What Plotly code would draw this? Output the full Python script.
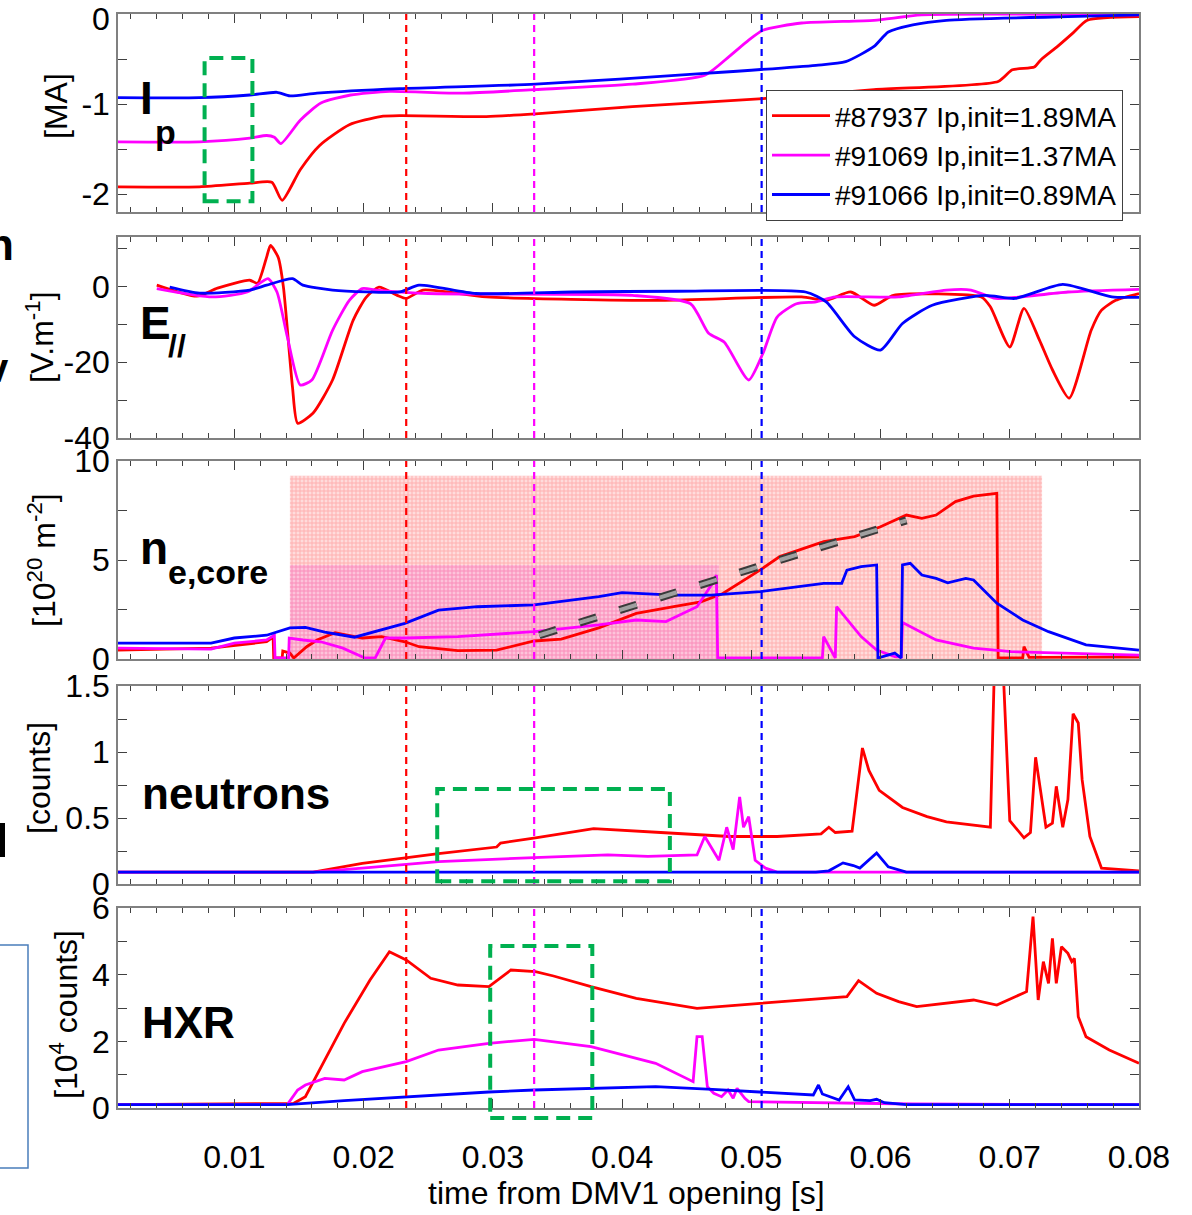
import plotly.graph_objects as go

# ---------------- data ----------------
shots = ["#87937 Ip,init=1.89MA", "#91069 Ip,init=1.37MA", "#91066 Ip,init=0.89MA"]
colors = ["#ff0000", "#ff00ff", "#0000ff"]

# Panel 1: Ip [MA]
t_ip_r = [0.001, 0.0073, 0.0112, 0.0129, 0.0137, 0.0151, 0.0166, 0.0189, 0.0213, 0.0228, 0.0295, 0.0333,
          0.0408, 0.0509, 0.0595, 0.0691, 0.0702, 0.0719, 0.0724, 0.0737, 0.0749, 0.0760, 0.0800]
ip_r = [-1.92, -1.92, -1.88, -1.87, -2.07, -1.73, -1.46, -1.23, -1.14, -1.13, -1.14, -1.11,
        -1.03, -0.94, -0.84, -0.75, -0.62, -0.59, -0.51, -0.36, -0.21, -0.07, -0.03]
t_ip_m = [0.001, 0.0073, 0.0112, 0.0125, 0.0131, 0.0136, 0.0151, 0.0167, 0.0190, 0.0220, 0.0277, 0.0333,
          0.0408, 0.0464, 0.0483, 0.0498, 0.0509, 0.0539, 0.0595, 0.0632, 0.0800]
ip_m = [-1.42, -1.42, -1.38, -1.35, -1.37, -1.44, -1.18, -0.99, -0.90, -0.86, -0.88, -0.84,
        -0.78, -0.68, -0.47, -0.29, -0.18, -0.10, -0.07, -0.01, -0.01]
t_ip_b = [0.001, 0.0073, 0.0112, 0.0133, 0.0143, 0.0164, 0.0228, 0.0333, 0.0464, 0.0550, 0.0573, 0.0595,
          0.0606, 0.0625, 0.0651, 0.0745, 0.0800]
ip_b = [-0.93, -0.93, -0.90, -0.87, -0.91, -0.88, -0.83, -0.78, -0.66, -0.57, -0.53, -0.36,
        -0.20, -0.12, -0.07, -0.03, -0.01]

# Panel 2: E// [V/m]
t_e_r = [0.0040, 0.0071, 0.0087, 0.0112, 0.0118, 0.0125, 0.0128, 0.0134, 0.0138, 0.0145, 0.0149, 0.0161,
         0.0176, 0.0192, 0.0202, 0.0212, 0.0226, 0.0233, 0.0246, 0.0295, 0.0430, 0.0539, 0.0558, 0.0577,
         0.0595, 0.0610, 0.0678, 0.0685, 0.0700, 0.0711, 0.0723, 0.0733, 0.0746, 0.0763, 0.0771, 0.0782, 0.0800]
e_r = [0.3, -2.6, -0.5, 1.6, 0.8, 7.7, 10.8, 7.6, -0.2, -26.5, -36.1, -33.4,
       -24.7, -8.9, -2.9, -0.2, -2.4, -3.2, -1.0, -2.8, -3.7, -2.8, -3.7, -1.5,
       -5.0, -2.4, -2.8, -5.4, -16.0, -5.8, -14.2, -22.0, -29.5, -11.6, -6.3, -3.7, -1.9]
t_e_m = [0.0040, 0.0083, 0.0110, 0.0126, 0.0133, 0.0141, 0.0151, 0.0160, 0.0176, 0.0189, 0.0199, 0.0210,
         0.0250, 0.0408, 0.0453, 0.0467, 0.0479, 0.0498, 0.0509, 0.0520, 0.0535, 0.0550, 0.0565, 0.0614,
         0.0651, 0.0670, 0.0689, 0.0708, 0.0745, 0.0800]
e_m = [-0.6, -2.8, -1.5, 2.0, -1.5, -13.3, -26.0, -24.7, -11.6, -3.7, -0.6, -1.0,
       -1.9, -2.4, -4.6, -12.4, -14.7, -24.7, -17.7, -8.1, -4.6, -4.1, -2.8, -2.8,
       -1.0, -1.0, -3.2, -2.8, -1.5, -0.8]
t_e_b = [0.0050, 0.0073, 0.0112, 0.0125, 0.0145, 0.0153, 0.0176, 0.0228, 0.0243, 0.0287, 0.0361, 0.0443,
         0.0542, 0.0558, 0.0580, 0.0600, 0.0617, 0.0640, 0.0681, 0.0704, 0.0741, 0.0779, 0.0800]
e_b = [-0.2, -1.8, -1.0, 0.3, 2.0, 0.3, -1.0, -1.5, 0.3, -1.9, -1.5, -1.3,
       -1.5, -4.1, -13.3, -16.8, -9.8, -5.0, -2.4, -3.2, 0.5, -2.8, -2.9]

# Panel 3: n_e,core [1e20 m^-2]
t_ne_r = [0.001, 0.0082, 0.0125, 0.0130, 0.01305, 0.0137, 0.01375, 0.0143, 0.0146, 0.0156, 0.0164, 0.0178,
          0.0199, 0.0214, 0.0232, 0.0243, 0.0273, 0.0303, 0.0332, 0.0353, 0.0382, 0.0411, 0.0440, 0.0461,
          0.0478, 0.0507, 0.0522, 0.0556, 0.0580, 0.0600, 0.0620, 0.0632, 0.0643, 0.0658, 0.0672, 0.0690,
          0.0691, 0.0710, 0.0711, 0.0715, 0.0800]
ne_r = [0.45, 0.55, 0.87, 1.1, 0.05, 0.05, 0.4, 0.3, 0.05, 0.62, 0.96, 1.33,
        1.06, 1.13, 0.87, 0.62, 0.42, 0.45, 0.91, 1.0, 1.57, 2.3, 2.64, 2.89,
        3.31, 4.5, 5.17, 5.93, 6.18, 6.68, 7.27, 7.1, 7.27, 7.95, 8.23, 8.37,
        0.05, 0.05, 0.62, 0.08, 0.1]
t_ne_m = [0.001, 0.0082, 0.0100, 0.0125, 0.0131, 0.01315, 0.0142, 0.01425, 0.0153, 0.0167, 0.0184, 0.0201,
          0.0209, 0.0217, 0.0232, 0.0273, 0.0332, 0.0382, 0.0411, 0.0434, 0.0458, 0.0470, 0.0473, 0.0474,
          0.0555, 0.0556, 0.0565, 0.0566, 0.0585, 0.0597, 0.0611, 0.0616, 0.0617, 0.0643, 0.0672, 0.0701, 0.0800]
ne_m = [0.55, 0.5, 0.8, 0.96, 1.2, 0.05, 0.05, 1.06, 0.96, 0.87, 0.55, 0.05,
        0.05, 1.06, 1.06, 1.13, 1.38, 1.72, 1.97, 1.89, 2.64, 3.82, 4.24, 0.05,
        0.05, 1.13, 0.05, 2.64, 1.13, 0.45, 0.12, 0.1, 1.84, 0.96, 0.55, 0.37, 0.2]
t_ne_b = [0.001, 0.0082, 0.0100, 0.0125, 0.0143, 0.0155, 0.0170, 0.0193, 0.0232, 0.0258, 0.0288, 0.0332,
          0.0382, 0.0400, 0.0440, 0.0469, 0.0507, 0.0556, 0.0570, 0.0574, 0.0585, 0.0597, 0.0598, 0.0611,
          0.0616, 0.0617, 0.0623, 0.0632, 0.0643, 0.0652, 0.0666, 0.0672, 0.0690, 0.0710, 0.0730, 0.0759, 0.0800]
ne_b = [0.8, 0.8, 1.06, 1.2, 1.57, 1.6, 1.36, 1.1, 1.8, 2.47, 2.64, 2.73,
        3.15, 3.35, 3.23, 3.23, 3.4, 3.82, 3.82, 4.49, 4.66, 4.75, 0.05, 0.3,
        0.05, 4.75, 4.83, 4.24, 4.07, 3.85, 4.07, 3.99, 2.82, 1.97, 1.38, 0.71, 0.45]
t_trend = [0.0336, 0.0620]
ne_trend = [1.2, 7.0]
shade_red = [0.0143, 0.0725, 9.25]      # t_start, t_end, top
shade_magenta = [0.0143, 0.0475, 4.75]  # t_start, t_end, top

# Panel 4: neutrons [counts]
t_n_r = [0.001, 0.0161, 0.0199, 0.0233, 0.0258, 0.0303, 0.0306, 0.0333, 0.0378, 0.0430, 0.0483, 0.0520,
         0.0554, 0.0560, 0.0565, 0.0578, 0.0586, 0.0591, 0.0599, 0.0617, 0.0636, 0.0651, 0.0685, 0.0688,
         0.0695, 0.0700, 0.0711, 0.0716, 0.0720, 0.0728, 0.0733, 0.0736, 0.0741, 0.0745, 0.0749, 0.0753,
         0.0756, 0.0762, 0.0771, 0.0800]
n_r = [0.09, 0.09, 0.156, 0.20, 0.23, 0.28, 0.31, 0.35, 0.42, 0.39, 0.36, 0.36,
       0.38, 0.43, 0.39, 0.40, 1.03, 0.86, 0.71, 0.58, 0.51, 0.47, 0.43, 1.6,
       1.6, 0.48, 0.35, 0.39, 0.96, 0.43, 0.46, 0.74, 0.43, 0.64, 1.29, 1.22,
       0.79, 0.36, 0.12, 0.1]
t_n_m = [0.001, 0.0161, 0.0199, 0.0258, 0.0332, 0.0389, 0.0420, 0.0458, 0.0464, 0.0475, 0.0481, 0.0486,
         0.0491, 0.0494, 0.0498, 0.0503, 0.0511, 0.0520, 0.0800]
n_m = [0.09, 0.09, 0.12, 0.17, 0.20, 0.22, 0.21, 0.22, 0.36, 0.18, 0.43, 0.26,
       0.66, 0.43, 0.51, 0.18, 0.12, 0.09, 0.09]
t_n_b = [0.001, 0.0550, 0.0560, 0.0571, 0.0579, 0.0584, 0.0597, 0.0606, 0.0620, 0.0800]
n_b = [0.09, 0.09, 0.10, 0.16, 0.14, 0.12, 0.235, 0.13, 0.09, 0.09]

# Panel 5: HXR [1e4 counts]
t_h_r = [0.001, 0.0146, 0.0155, 0.0185, 0.0205, 0.0214, 0.0220, 0.0233, 0.0243, 0.0252, 0.0273, 0.0297,
         0.0314, 0.0333, 0.0347, 0.0376, 0.0411, 0.0458, 0.0507, 0.0574, 0.0583, 0.0597, 0.0614, 0.0628,
         0.0672, 0.0690, 0.0713, 0.0718, 0.0722, 0.0726, 0.0730, 0.0733, 0.0736, 0.0740, 0.0745, 0.0748,
         0.0750, 0.0753, 0.0759, 0.0777, 0.0800]
h_r = [0.1, 0.14, 0.34, 2.54, 3.84, 4.34, 4.69, 4.44, 4.14, 3.89, 3.69, 3.64,
       4.14, 4.09, 3.96, 3.64, 3.29, 2.99, 3.14, 3.34, 3.82, 3.44, 3.19, 3.04,
       3.24, 3.09, 3.49, 5.74, 3.24, 4.39, 3.74, 5.09, 3.74, 4.84, 4.64, 4.39,
       4.49, 2.74, 2.14, 1.74, 1.34]
t_h_m = [0.001, 0.0141, 0.0149, 0.0155, 0.0170, 0.0185, 0.0199, 0.0233, 0.0258, 0.0297, 0.0332, 0.0376,
         0.0426, 0.0455, 0.0458, 0.0462, 0.0466, 0.0471, 0.0477, 0.0482, 0.0486, 0.0489, 0.0495, 0.0498,
         0.0625, 0.0800]
h_m = [0.1, 0.1, 0.54, 0.69, 0.89, 0.84, 1.09, 1.39, 1.74, 1.94, 2.06, 1.84,
       1.34, 0.79, 2.14, 2.14, 0.64, 0.44, 0.34, 0.54, 0.29, 0.59, 0.29, 0.19,
       0.12, 0.1]
t_h_b = [0.001, 0.0141, 0.0185, 0.0233, 0.0297, 0.0332, 0.0382, 0.0426, 0.0470, 0.0507, 0.0548, 0.0552,
         0.0555, 0.0568, 0.0575, 0.0580, 0.0592, 0.0597, 0.0603, 0.0620, 0.0800]
h_b = [0.1, 0.1, 0.22, 0.34, 0.48, 0.54, 0.6, 0.64, 0.56, 0.49, 0.39, 0.69,
       0.42, 0.24, 0.64, 0.24, 0.22, 0.26, 0.16, 0.1, 0.1]

# event times (dashed verticals), and highlighted windows
vline_times = [0.0233, 0.0332, 0.0508]
box_ip = [0.0077, 0.0114, -2.08, -0.49]
box_neutrons = [0.0257, 0.0437, 0.02, 0.72]
box_hxr = [0.0298, 0.0377, -0.3, 4.86]

x_ticks = [0.01, 0.02, 0.03, 0.04, 0.05, 0.06, 0.07, 0.08]
x_ticktext = ["0.01", "0.02", "0.03", "0.04", "0.05", "0.06", "0.07", "0.08"]

# ---------------- layout helpers ----------------
W, H = 1192, 1215
FONT = "Liberation Sans, Arial, sans-serif"
XL, XR = 118, 1139
panels_px = [(14, 212), (237, 438), (461, 659), (686, 884), (908, 1108)]
y_ranges = [[-2.2, 0.0], [-40, 13], [0, 10], [0, 1.5], [0, 6]]
y_tickvals = [[-2, -1, 0], [-40, -20, 0], [0, 5, 10], [0, 0.5, 1, 1.5], [0, 2, 4, 6]]
# the top "0" of panel 1 is written as an annotation below (it sits at the page edge)
y_ticktext = [["-2", "-1", ""], ["-40", "-20", "0"], ["0", "5", "10"], ["0", "0.5", "1", "1.5"], ["0", "2", "4", "6"]]
y_minor = [0.5, 10, 2.5, 0.25, 1]
smooth_panels = [0, 1]

fig = go.Figure()

def ax(i):
    return ("x" if i == 0 else f"x{i+1}"), ("y" if i == 0 else f"y{i+1}")

series = [
    [(t_ip_r, ip_r), (t_ip_m, ip_m), (t_ip_b, ip_b)],
    [(t_e_r, e_r), (t_e_m, e_m), (t_e_b, e_b)],
    [(t_ne_r, ne_r), (t_ne_m, ne_m), (t_ne_b, ne_b)],
    [(t_n_r, n_r), (t_n_m, n_m), (t_n_b, n_b)],
    [(t_h_r, h_r), (t_h_m, h_m), (t_h_b, h_b)],
]

# shaded regions (panel 3)
xa3, ya3 = ax(2)
for reg, fg, bg in [(shade_red, "rgba(255,80,80,0.7)", "rgba(255,205,205,0.7)"),
                    (shade_magenta, "rgba(240,40,190,0.35)", "rgba(245,130,215,0.28)")]:
    t0, t1, top = reg
    fig.add_trace(go.Scatter(x=[t0, t1, t1, t0, t0], y=[0, 0, top, top, 0], mode="lines",
                             line=dict(width=0), fill="toself",
                             fillcolor=bg,
                             fillpattern=dict(shape="+", size=4, solidity=0.4, fgcolor=fg, bgcolor=bg),
                             xaxis=xa3, yaxis=ya3, showlegend=False, hoverinfo="skip"))

for i, group in enumerate(series):
    xa, ya = ax(i)
    for k, (t, v) in enumerate(group):
        ln = dict(color=colors[k], width=2.8)
        if i in smooth_panels:
            ln.update(shape="spline", smoothing=0.6)
        fig.add_trace(go.Scatter(x=t, y=v, mode="lines", name=shots[k], line=ln,
                                 xaxis=xa, yaxis=ya, showlegend=(i == 0)))

# trend line (panel 3)
fig.add_trace(go.Scatter(x=t_trend, y=ne_trend, mode="lines", line=dict(color="#3a3a3a", width=8, dash="18px,24px"),
                         xaxis=xa3, yaxis=ya3, showlegend=False))
fig.add_trace(go.Scatter(x=t_trend, y=ne_trend, mode="lines", line=dict(color="#a0a0a0", width=4, dash="18px,24px"),
                         xaxis=xa3, yaxis=ya3, showlegend=False))

layout = dict(width=W, height=H, autosize=False, margin=dict(l=0, r=0, t=0, b=0, pad=0, autoexpand=False),
              paper_bgcolor="white", plot_bgcolor="rgba(0,0,0,0)",
              font=dict(family=FONT, size=32, color="black"))

for i, (top, bot) in enumerate(panels_px):
    xa, ya = ax(i)
    xkey = "xaxis" if i == 0 else f"xaxis{i+1}"
    ykey = "yaxis" if i == 0 else f"yaxis{i+1}"
    layout[xkey] = dict(domain=[XL / W, XR / W], anchor=ya, range=[0.001, 0.08], automargin=False,
                        showline=True, linecolor="#808080", linewidth=1.5, mirror="ticks",
                        ticks="inside", ticklen=9, tickcolor="#404040", tickwidth=1.2,
                        tickvals=x_ticks, ticktext=x_ticktext, showticklabels=(i == 4),
                        tickfont=dict(size=32, family=FONT), ticklabelstandoff=20,
                        ticklabeloverflow="allow",
                        minor=dict(dtick=0.002, tick0=0, ticks="inside", ticklen=5, tickcolor="#404040"),
                        showgrid=False, zeroline=False, fixedrange=True)
    layout[ykey] = dict(domain=[1 - bot / H, 1 - top / H], anchor=xa, range=y_ranges[i], automargin=False,
                        showline=True, linecolor="#808080", linewidth=1.5, mirror="ticks",
                        ticks="inside", ticklen=9, tickcolor="#404040", tickwidth=1.2,
                        tickvals=y_tickvals[i], ticktext=y_ticktext[i],
                        tickfont=dict(size=32, family=FONT), ticklabeloverflow="allow",
                        minor=dict(dtick=y_minor[i], tick0=0, ticks="inside", ticklen=9, tickcolor="#404040"),
                        showgrid=False, zeroline=False, fixedrange=True)

layout["legend"] = dict(x=766 / W, y=1 - 90 / H, xanchor="left", yanchor="top",
                        bgcolor="white", bordercolor="#404040", borderwidth=1,
                        font=dict(size=28, family=FONT), tracegroupgap=0, itemwidth=58)

shapes = []
vcolors = ["#ff0000", "#ff00ff", "#0000ff"]
for i in range(5):
    xa, ya = ax(i)
    for tv, c in zip(vline_times, vcolors):
        shapes.append(dict(type="line", xref=xa, yref=f"{ya} domain", x0=tv, x1=tv, y0=0, y1=1,
                           line=dict(color=c, width=2.2, dash="7px,5px"), layer="above"))

def dom(v, rng):
    return (v - rng[0]) / (rng[1] - rng[0])

for pidx, box in [(0, box_ip), (3, box_neutrons), (4, box_hxr)]:
    xa, ya = ax(pidx)
    rng = y_ranges[pidx]
    shapes.append(dict(type="rect", xref=xa, yref=f"{ya} domain", x0=box[0], x1=box[1],
                       y0=dom(box[2], rng), y1=dom(box[3], rng),
                       line=dict(color="#00b050", width=4, dash="14px,8px"), layer="above"))

# slide fragments at the left edge
shapes.append(dict(type="rect", xref="paper", yref="paper", x0=-0.01, x1=28 / W, y0=1 - 1168 / H, y1=1 - 945 / H,
                   line=dict(color="#4a7ebb", width=1.5)))
shapes.append(dict(type="rect", xref="paper", yref="paper", x0=-0.01, x1=5 / W, y0=1 - 857 / H, y1=1 - 823 / H,
                   line=dict(width=0), fillcolor="black"))
layout["shapes"] = shapes

def ann(text, px, py, size, bold=False, xanchor="left", angle=0, yanchor="middle"):
    return dict(text=(f"<b>{text}</b>" if bold else text), x=px / W, y=1 - py / H, xref="paper", yref="paper",
                xanchor=xanchor, yanchor=yanchor, showarrow=False, textangle=angle,
                font=dict(size=size, family=FONT, color="black"))

annotations = [
    ann("0", 112, 19, 32, xanchor="right"),
    ann("I", 138, 98, 46, True),
    ann("p", 153, 132, 34, True),
    ann("E", 138, 323, 46, True),
    ann("//", 166, 346, 32, True),
    ann("n", 138, 548, 46, True),
    ann("e,core", 166, 572, 34, True),
    ann("neutrons", 140, 793, 44, True),
    ann("HXR", 140, 1022, 44, True),
    ann("[MA]", 56, 106, 32, angle=-90, xanchor="center"),
    ann("[V.m<sup>-1</sup>]", 40, 337, 32, angle=-90, xanchor="center"),
    ann("[10<sup>20</sup> m<sup>-2</sup>]", 42, 560, 32, angle=-90, xanchor="center"),
    ann("[counts]", 39, 778, 32, angle=-90, xanchor="center"),
    ann("[10<sup>4</sup> counts]", 64, 1015, 32, angle=-90, xanchor="center"),
    ann("time from DMV1 opening [s]", 627, 1193, 32, xanchor="center"),
    ann("n", 16, 245, 44, True, xanchor="right"),
    ann("v", 11, 368, 40, True, xanchor="right"),
]
layout["annotations"] = annotations

fig.update_layout(**layout)
fig.write_html("out.html", config={"displayModeBar": False},
               post_script="document.body.style.margin='0px';document.body.style.overflow='hidden';")
